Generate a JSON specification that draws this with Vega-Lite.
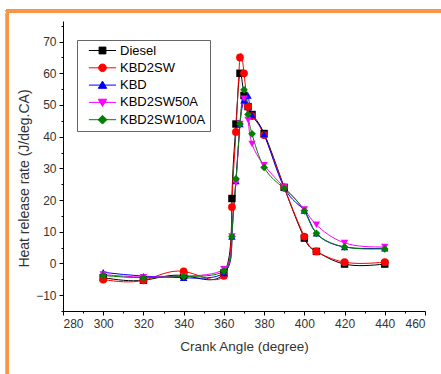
{
  "$schema": "https://vega.github.io/schema/vega-lite/v6.json",
  "width": 362,
  "height": 290,
  "autosize": {"type": "none"},
  "padding": {"left": 63, "top": 21, "right": 16, "bottom": 63},
  "background": "white",
  "config": {
    "view": {"stroke": null},
    "font": "Liberation Sans",
    "axis": {
      "domainColor": "#000000",
      "tickColor": "#000000",
      "labelColor": "#333333",
      "labelFont": "Liberation Sans",
      "titleFont": "Liberation Sans",
      "titleFontWeight": "normal",
      "titleColor": "#333333",
      "labelFontSize": 12,
      "grid": false
    },
    "legend": {
      "orient": "none", "legendX": 14, "legendY": 19,
      "strokeColor": "#666666", "padding": 4, "rowPadding": 3.3,
      "labelFontSize": 13, "labelColor": "#000000", "labelFont": "Liberation Sans",
      "symbolSize": 64, "symbolOffset": 15, "labelOffset": 11, "title": null,
      "symbolStrokeWidth": 1
    }
  },
  "data": {
    "values": [
      {"angle": 300, "hrr": -4.5, "fuel": "Diesel"},
      {"angle": 320, "hrr": -5.3, "fuel": "Diesel"},
      {"angle": 340, "hrr": -3.8, "fuel": "Diesel"},
      {"angle": 360, "hrr": -3.0, "fuel": "Diesel"},
      {"angle": 364, "hrr": 20.5, "fuel": "Diesel"},
      {"angle": 366, "hrr": 44, "fuel": "Diesel"},
      {"angle": 368, "hrr": 60, "fuel": "Diesel"},
      {"angle": 370, "hrr": 53, "fuel": "Diesel"},
      {"angle": 372, "hrr": 49.5, "fuel": "Diesel"},
      {"angle": 374, "hrr": 47, "fuel": "Diesel"},
      {"angle": 380, "hrr": 41, "fuel": "Diesel"},
      {"angle": 390, "hrr": 24, "fuel": "Diesel"},
      {"angle": 400, "hrr": 8, "fuel": "Diesel"},
      {"angle": 406, "hrr": 3.8, "fuel": "Diesel"},
      {"angle": 420, "hrr": -0.2, "fuel": "Diesel"},
      {"angle": 440, "hrr": -0.2, "fuel": "Diesel"},

      {"angle": 300, "hrr": -5.1, "fuel": "KBD2SW"},
      {"angle": 320, "hrr": -5.3, "fuel": "KBD2SW"},
      {"angle": 340, "hrr": -2.5, "fuel": "KBD2SW"},
      {"angle": 360, "hrr": -3.9, "fuel": "KBD2SW"},
      {"angle": 364, "hrr": 17.8, "fuel": "KBD2SW"},
      {"angle": 366, "hrr": 41.5, "fuel": "KBD2SW"},
      {"angle": 368, "hrr": 65, "fuel": "KBD2SW"},
      {"angle": 370, "hrr": 60, "fuel": "KBD2SW"},
      {"angle": 372, "hrr": 49.5, "fuel": "KBD2SW"},
      {"angle": 374, "hrr": 46.5, "fuel": "KBD2SW"},
      {"angle": 380, "hrr": 40.5, "fuel": "KBD2SW"},
      {"angle": 390, "hrr": 24, "fuel": "KBD2SW"},
      {"angle": 400, "hrr": 8.5, "fuel": "KBD2SW"},
      {"angle": 406, "hrr": 3.8, "fuel": "KBD2SW"},
      {"angle": 420, "hrr": 0.4, "fuel": "KBD2SW"},
      {"angle": 440, "hrr": 0.4, "fuel": "KBD2SW"},

      {"angle": 300, "hrr": -2.8, "fuel": "KBD"},
      {"angle": 320, "hrr": -4.0, "fuel": "KBD"},
      {"angle": 340, "hrr": -4.5, "fuel": "KBD"},
      {"angle": 360, "hrr": -3.0, "fuel": "KBD"},
      {"angle": 364, "hrr": 8.5, "fuel": "KBD"},
      {"angle": 366, "hrr": 26, "fuel": "KBD"},
      {"angle": 368, "hrr": 44, "fuel": "KBD"},
      {"angle": 370, "hrr": 51.5, "fuel": "KBD"},
      {"angle": 372, "hrr": 53, "fuel": "KBD"},
      {"angle": 374, "hrr": 46.8, "fuel": "KBD"},
      {"angle": 380, "hrr": 40.8, "fuel": "KBD"},
      {"angle": 390, "hrr": 24, "fuel": "KBD"},
      {"angle": 400, "hrr": 16.7, "fuel": "KBD"},
      {"angle": 406, "hrr": 9.5, "fuel": "KBD"},
      {"angle": 420, "hrr": 5.2, "fuel": "KBD"},
      {"angle": 440, "hrr": 4.8, "fuel": "KBD"},

      {"angle": 300, "hrr": -3.5, "fuel": "KBD2SW50A"},
      {"angle": 320, "hrr": -4.3, "fuel": "KBD2SW50A"},
      {"angle": 340, "hrr": -4.0, "fuel": "KBD2SW50A"},
      {"angle": 360, "hrr": -1.8, "fuel": "KBD2SW50A"},
      {"angle": 364, "hrr": 8.5, "fuel": "KBD2SW50A"},
      {"angle": 366, "hrr": 25.5, "fuel": "KBD2SW50A"},
      {"angle": 368, "hrr": 44, "fuel": "KBD2SW50A"},
      {"angle": 370, "hrr": 52, "fuel": "KBD2SW50A"},
      {"angle": 372, "hrr": 45.3, "fuel": "KBD2SW50A"},
      {"angle": 374, "hrr": 37.7, "fuel": "KBD2SW50A"},
      {"angle": 380, "hrr": 31, "fuel": "KBD2SW50A"},
      {"angle": 390, "hrr": 24, "fuel": "KBD2SW50A"},
      {"angle": 400, "hrr": 17, "fuel": "KBD2SW50A"},
      {"angle": 406, "hrr": 12.2, "fuel": "KBD2SW50A"},
      {"angle": 420, "hrr": 6.5, "fuel": "KBD2SW50A"},
      {"angle": 440, "hrr": 5.2, "fuel": "KBD2SW50A"},

      {"angle": 300, "hrr": -3.8, "fuel": "KBD2SW100A"},
      {"angle": 320, "hrr": -4.5, "fuel": "KBD2SW100A"},
      {"angle": 340, "hrr": -4.1, "fuel": "KBD2SW100A"},
      {"angle": 360, "hrr": -2.4, "fuel": "KBD2SW100A"},
      {"angle": 364, "hrr": 8.5, "fuel": "KBD2SW100A"},
      {"angle": 366, "hrr": 26.7, "fuel": "KBD2SW100A"},
      {"angle": 368, "hrr": 44, "fuel": "KBD2SW100A"},
      {"angle": 370, "hrr": 54.8, "fuel": "KBD2SW100A"},
      {"angle": 372, "hrr": 47, "fuel": "KBD2SW100A"},
      {"angle": 374, "hrr": 40.9, "fuel": "KBD2SW100A"},
      {"angle": 380, "hrr": 30.3, "fuel": "KBD2SW100A"},
      {"angle": 390, "hrr": 23.7, "fuel": "KBD2SW100A"},
      {"angle": 400, "hrr": 16.6, "fuel": "KBD2SW100A"},
      {"angle": 406, "hrr": 9.5, "fuel": "KBD2SW100A"},
      {"angle": 420, "hrr": 5.2, "fuel": "KBD2SW100A"},
      {"angle": 440, "hrr": 4.6, "fuel": "KBD2SW100A"}
    ]
  },
  "resolve": {"axis": {"x": "independent", "y": "independent"}},
  "layer": [
    {
      "mark": {"type": "rect", "fill": null, "stroke": "#F79646", "strokeWidth": 3, "clip": false},
      "encoding": {
        "x": {"datum": 252.4, "type": "quantitative", "scale": {"domain": [280, 460], "nice": false}, "axis": null},
        "x2": {"datum": 490},
        "y": {"datum": 79.66, "type": "quantitative", "scale": {"domain": [-15, 76.5], "nice": false}, "axis": null},
        "y2": {"datum": -40}
      }
    },
    {
      "mark": {"type": "point", "opacity": 0},
      "encoding": {
        "x": {"field": "angle", "type": "quantitative",
              "axis": {"orient": "bottom", "values": [290, 310, 330, 350, 370, 390, 410, 430, 450], "labels": false, "domain": false, "tickSize": 2, "title": null}},
        "y": {"field": "hrr", "type": "quantitative",
              "axis": {"orient": "left", "values": [-15, -5, 5, 15, 25, 35, 45, 55, 65, 75], "labels": false, "domain": false, "tickSize": 2, "title": null}}
      }
    },
    {
      "mark": {"type": "line", "interpolate": "natural", "strokeWidth": 1},
      "encoding": {
        "x": {"field": "angle", "type": "quantitative",
              "axis": {"orient": "bottom", "values": [280, 300, 320, 340, 360, 380, 400, 420, 440, 460], "tickSize": 4, "labelPadding": 3, "title": "Crank Angle (degree)", "titleFontSize": 13.5, "titlePadding": 10}},
        "y": {"field": "hrr", "type": "quantitative",
              "axis": {"orient": "left", "values": [-10, 0, 10, 20, 30, 40, 50, 60, 70], "tickSize": 4, "labelPadding": 3, "title": "Heat release rate (J/deg.CA)", "titleFontSize": 14, "titlePadding": 4, "titleY": 157}},
        "color": {"field": "fuel", "type": "nominal",
                  "scale": {"domain": ["Diesel", "KBD2SW", "KBD", "KBD2SW50A", "KBD2SW100A"], "range": ["#000000", "#FF0000", "#0000FF", "#FF00FF", "#008000"]}}
      }
    },
    {
      "transform": [{"filter": "datum.fuel === 'Diesel'"}],
      "mark": {"type": "point", "filled": true, "opacity": 1, "size": 55, "shape": "square"},
      "encoding": {
        "x": {"field": "angle", "type": "quantitative", "axis": null},
        "y": {"field": "hrr", "type": "quantitative", "axis": null},
        "color": {"field": "fuel", "type": "nominal"}
      }
    },
    {
      "transform": [{"filter": "datum.fuel === 'KBD2SW'"}],
      "mark": {"type": "point", "filled": true, "opacity": 1, "size": 60, "shape": "circle"},
      "encoding": {
        "x": {"field": "angle", "type": "quantitative", "axis": null},
        "y": {"field": "hrr", "type": "quantitative", "axis": null},
        "color": {"field": "fuel", "type": "nominal"}
      }
    },
    {
      "transform": [{"filter": "datum.fuel === 'KBD'"}],
      "mark": {"type": "point", "filled": true, "opacity": 1, "size": 55, "shape": "triangle-up"},
      "encoding": {
        "x": {"field": "angle", "type": "quantitative", "axis": null},
        "y": {"field": "hrr", "type": "quantitative", "axis": null},
        "color": {"field": "fuel", "type": "nominal"}
      }
    },
    {
      "transform": [{"filter": "datum.fuel === 'KBD2SW50A'"}],
      "mark": {"type": "point", "filled": true, "opacity": 1, "size": 55, "shape": "triangle-down"},
      "encoding": {
        "x": {"field": "angle", "type": "quantitative", "axis": null},
        "y": {"field": "hrr", "type": "quantitative", "axis": null},
        "color": {"field": "fuel", "type": "nominal"}
      }
    },
    {
      "transform": [{"filter": "datum.fuel === 'KBD2SW100A'"}],
      "mark": {"type": "point", "filled": true, "opacity": 1, "size": 60, "shape": "diamond"},
      "encoding": {
        "x": {"field": "angle", "type": "quantitative", "axis": null},
        "y": {"field": "hrr", "type": "quantitative", "axis": null},
        "color": {"field": "fuel", "type": "nominal"}
      }
    },
    {
      "transform": [{"filter": "datum.angle === 300"}],
      "mark": {"type": "point", "filled": true, "opacity": 0, "strokeWidth": 1},
      "encoding": {
        "x": {"field": "angle", "type": "quantitative", "axis": null},
        "y": {"field": "hrr", "type": "quantitative", "axis": null},
        "color": {"field": "fuel", "type": "nominal", "legend": {"symbolOpacity": 1}},
        "shape": {"field": "fuel", "type": "nominal", "legend": {"symbolOpacity": 1},
                  "scale": {"domain": ["Diesel", "KBD2SW", "KBD", "KBD2SW50A", "KBD2SW100A"],
                            "range": ["M-3.4,0H3.4M-0.85,-0.85H0.85V0.85H-0.85Z", "M-3.4,0H3.4M0.95,0A0.95,0.95,0,1,1,-0.95,0A0.95,0.95,0,1,1,0.95,0Z", "M-3.4,0H3.4M0,-1L1.05,0.8H-1.05Z", "M-3.4,0H3.4M0,1L1.05,-0.8H-1.05Z", "M-3.4,0H3.4M0,-1.1L1.1,0L0,1.1L-1.1,0Z"]}},
        "stroke": {"field": "fuel", "type": "nominal", "legend": {"symbolOpacity": 1},
                   "scale": {"domain": ["Diesel", "KBD2SW", "KBD", "KBD2SW50A", "KBD2SW100A"], "range": ["#000000", "#FF0000", "#0000FF", "#FF00FF", "#008000"]}}
      }
    }
  ]
}
